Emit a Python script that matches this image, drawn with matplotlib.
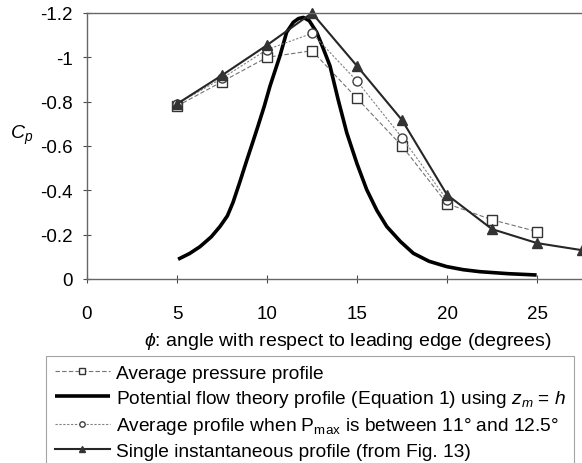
import matplotlib
matplotlib.use("Agg")
import matplotlib.pyplot as plt

plt.rcParams['font.family'] = ['Liberation Sans', 'DejaVu Sans']
plt.rcParams['mathtext.fontset'] = 'custom'
plt.rcParams['mathtext.rm'] = 'Liberation Sans'
plt.rcParams['mathtext.it'] = 'Liberation Sans:italic'

# angulo (grados) y coeficiente de presion
phi_prom = [5, 7.5, 10, 12.5, 15, 17.5, 20, 22.5, 25]
cp_prom = [-0.78, -0.89, -1.0, -1.03, -0.815, -0.60, -0.34, -0.267, -0.214]

phi_pmax = [5, 7.5, 10, 12.5, 15, 17.5, 20]
cp_pmax = [-0.79, -0.905, -1.035, -1.108, -0.893, -0.638, -0.357]

phi_inst = [5, 7.5, 10, 12.5, 15, 17.5, 20, 22.5, 25, 27.5]
cp_inst = [-0.79, -0.919, -1.055, -1.2, -0.961, -0.717, -0.38, -0.225, -0.162, -0.13]

# curva de flujo potencial
phi_pot = [5.06, 5.7, 6.28, 6.9, 7.39, 7.8, 8.11, 8.5, 8.89, 9.2, 9.5, 9.85, 10.17,
           10.45, 10.72, 11.09, 11.46, 11.75, 12.02, 12.35, 12.76, 13.1, 13.5, 13.95,
           14.43, 15.0, 15.54, 16.1, 16.65, 17.4, 18.13, 19.0, 19.98, 20.9, 21.83, 23.4, 24.98]
cp_pot = [-0.089, -0.115, -0.146, -0.19, -0.237, -0.285, -0.345, -0.44, -0.539, -0.615,
          -0.69, -0.78, -0.871, -0.94, -1.007, -1.113, -1.158, -1.175, -1.18, -1.165,
          -1.113, -1.045, -0.961, -0.81, -0.66, -0.52, -0.403, -0.31, -0.237, -0.17,
          -0.116, -0.08, -0.056, -0.042, -0.033, -0.024, -0.018]

xticks = [0, 5, 10, 15, 20, 25]
yticks = [0, -0.2, -0.4, -0.6, -0.8, -1, -1.2]
yticklabels = ['0', '-0.2', '-0.4', '-0.6', '-0.8', '-1', '-1.2']

fig = plt.figure(figsize=(5.82, 4.64), dpi=100)
ax = fig.add_axes([87/582, 1-280/464, 1-87/582, (280-14)/464])

l1, = ax.plot(phi_prom, cp_prom, color='0.45', lw=0.8, ls=(0, (4, 2)),
              marker='s', ms=6.8, mfc='white', mec='0.2', mew=1.0)
l2, = ax.plot(phi_pot, cp_pot, color='black', lw=2.6, solid_capstyle='butt')
l3, = ax.plot(phi_pmax, cp_pmax, color='0.5', lw=0.8, ls=(0, (2, 1.5)),
              marker='o', ms=6.5, mfc='white', mec='0.25', mew=1.0)
l4, = ax.plot(phi_inst, cp_inst, color='0.15', lw=1.5,
              marker='^', ms=7, mfc='0.2', mec='0.2', clip_on=False)

ax.set_xlim(0, 27.5)
ax.set_ylim(0, -1.2)
ax.set_xticks(xticks)
ax.set_yticks(yticks)
ax.set_yticklabels(yticklabels)
ax.tick_params(axis='x', direction='inout', length=6, width=0.8, pad=16,
               labelsize=13.5, colors='0.3', labelcolor='black')
ax.tick_params(axis='y', direction='inout', length=6, width=0.8, pad=7,
               labelsize=13.5, colors='0.3', labelcolor='black')
for s in ['left', 'bottom', 'top']:
    ax.spines[s].set_color('0.4')
    ax.spines[s].set_linewidth(1.0)
ax.spines['right'].set_visible(False)

ax.set_xlabel(r'$\phi$: angle with respect to leading edge (degrees)', fontsize=14)
ax.xaxis.set_label_coords((348-87)/(582-87), -(341-280)/(280-14), transform=ax.transAxes)
ax.xaxis.label.set_va('center')
fig.text(22/582, 1-135/464, r'$C_p$', fontsize=14, ha='center', va='center')

etiquetas = ['Average pressure profile',
             r'Potential flow theory profile (Equation 1) using $z_m$ = $h$',
             r'Average profile when P$_{\mathrm{max}}$ is between 11° and 12.5°',
             'Single instantaneous profile (from Fig. 13)']
alto = 0.4
leg = fig.legend([l1, l2, l3, l4], etiquetas, loc='upper left',
                 bbox_to_anchor=(46/582, 1-357/464-alto, (574-46)/582, alto), mode='expand',
                 fontsize=13.8, frameon=True, fancybox=False, borderaxespad=0,
                 handlelength=2.9, handletextpad=0.3, labelspacing=0.32,
                 markerscale=0.6, borderpad=0.45)
leg.get_frame().set_edgecolor('0.55')
leg.get_frame().set_linewidth(0.8)

fig.savefig('out.png', dpi=100)
